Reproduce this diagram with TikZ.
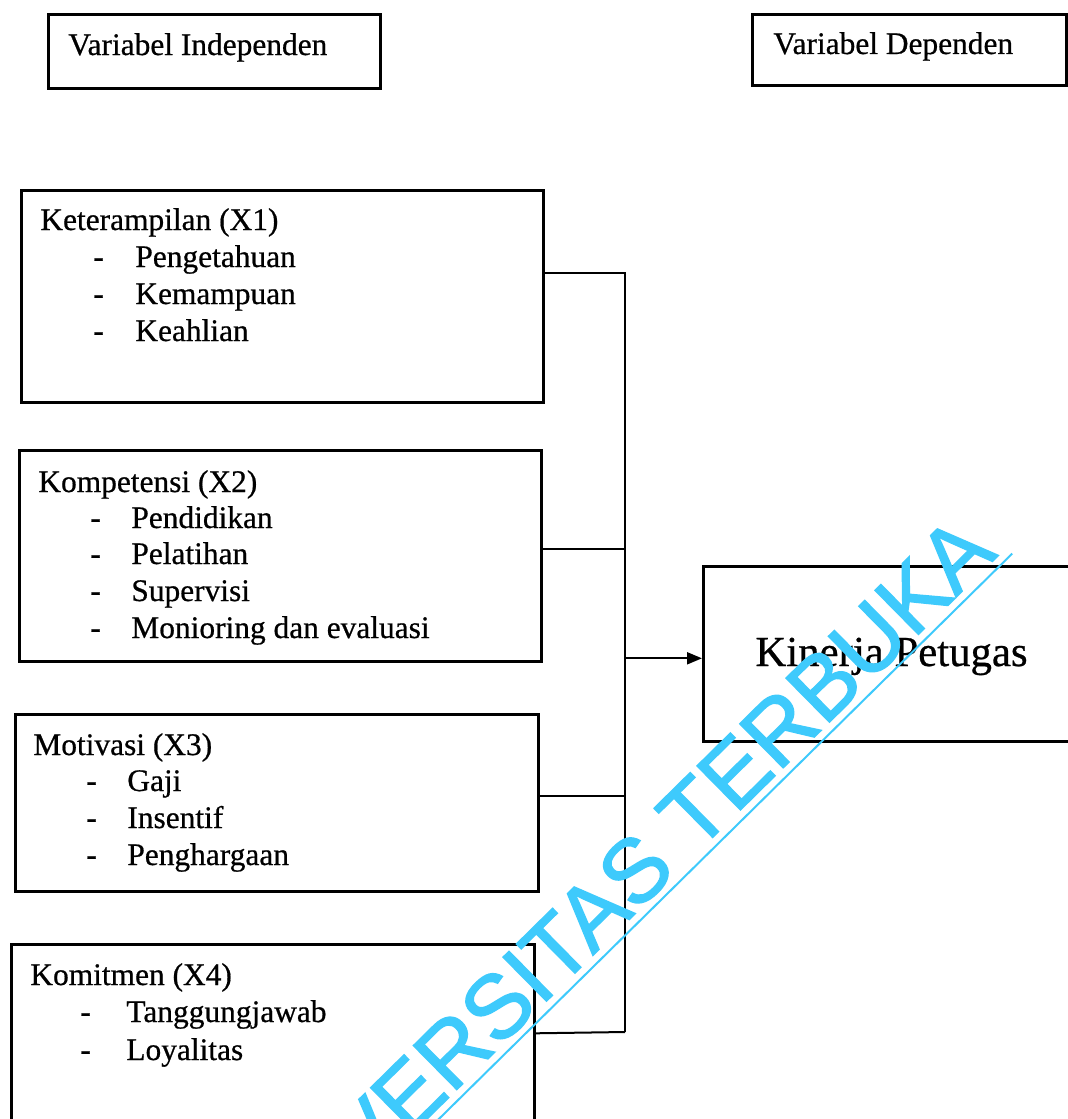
\documentclass[tikz,border=0pt]{standalone}
\usepackage{fontspec}
\setmainfont{Liberation Serif}[FakeBold=0.6]
\setsansfont{Liberation Sans}
\newfontfamily\wmfont{Liberation Sans}[FakeBold=1.5]
\usetikzlibrary{arrows.meta,calc}
\definecolor{wmcyan}{RGB}{62,202,252}
\begin{document}
\begin{tikzpicture}[x=0.5pt,y=-0.5pt,
  box/.style={draw, line width=1.3pt, anchor=north west, inner sep=0pt},
  txt/.style={anchor=base west, inner sep=0pt, font=\fontsize{15.7}{18}\selectfont},
  item/.style={txt},
  conn/.style={line width=1pt},
  arr/.style={line width=1pt, -{Triangle[length=7.5pt,width=6pt]}},
  wmtext/.style={text=wmcyan, font=\wmfont\fontsize{45}{45}\selectfont, inner xsep=0pt, inner ysep=3.5pt}
]
\clip (0,0) rectangle (1068,1119);
\fill[white] (0,0) rectangle (1068,1119);

% header boxes
\node[box, minimum width=166pt, minimum height=37pt] (hind) at (47,13) {};
\node[txt] (hindt) at (68,55) {Variabel Independen};
\node[box, minimum width=157pt, minimum height=35.5pt] (hdep) at (751,13) {};
\node[txt] (hdept) at (773,54) {Variabel Dependen};

% box 1
\node[box, minimum width=261pt, minimum height=106pt] (b1) at (20,189) {};
\node[txt] (b1t) at (40,230) {Keterampilan (X1)};
\foreach \y/\w [count=\i] in {267/Pengetahuan,304/Kemampuan,341/Keahlian}
  \node[item] (b1i\i) at (93,\y) {\makebox[21pt][l]{-}\w};

% box 2
\node[box, minimum width=261pt, minimum height=105.5pt] (b2) at (18,449) {};
\node[txt] (b2t) at (38,492) {Kompetensi (X2)};
\foreach \y/\w [count=\i] in {528/Pendidikan,564/Pelatihan,601/Supervisi,638/Monioring dan evaluasi}
  \node[item] (b2i\i) at (90,\y) {\makebox[20.5pt][l]{-}\w};

% box 3
\node[box, minimum width=261.5pt, minimum height=88.5pt] (b3) at (14,713) {};
\node[txt] (b3t) at (33,755) {Motivasi (X3)};
\foreach \y/\w [count=\i] in {791/Gaji,828/Insentif,865/Penghargaan}
  \node[item] (b3i\i) at (86,\y) {\makebox[20.5pt][l]{-}\w};

% box 4
\node[box, minimum width=261.5pt, minimum height=92pt] (b4) at (10,943) {};
\node[txt] (b4t) at (30,985) {Komitmen (X4)};
\foreach \y/\w [count=\i] in {1022/Tanggungjawab,1060/Loyalitas}
  \node[item] (b4i\i) at (80,\y) {\makebox[23pt][l]{-}\w};

% dependent box
\node[box, minimum width=189pt, minimum height=87.5pt] (kin) at (702,565) {};
\node[anchor=base west, inner sep=0pt, font=\fontsize{21.4}{24}\selectfont] (kint) at (755,666) {Kinerja Petugas};

% connectors
\coordinate (bot) at (625,1032);
\coordinate (s1) at ([yshift=11.5pt]b1.east);
\coordinate (s2) at ([yshift=3.25pt]b2.east);
\coordinate (s3) at ([yshift=3.25pt]b3.east);
\coordinate (s4) at ([yshift=1.5pt]b4.east);
\coordinate (ka) at ([yshift=-2.25pt]kin.west);
\draw[conn] (s1) -| (bot);
\draw[conn] (s2) -- (s2 -| bot);
\draw[conn] (s3) -- (s3 -| bot);
\draw[conn] (s4) -- (bot);
\draw[arr] (ka -| bot) -- (ka);

% watermark
\node[wmtext, rotate=44.6, anchor=base east] (wm) at (999,555) {UNIVERSITAS TERBUKA};
\draw[wmcyan, line width=1pt] (wm.south west) -- ($(wm.south west)!1.01!(wm.south east)$);
\end{tikzpicture}
\end{document}
